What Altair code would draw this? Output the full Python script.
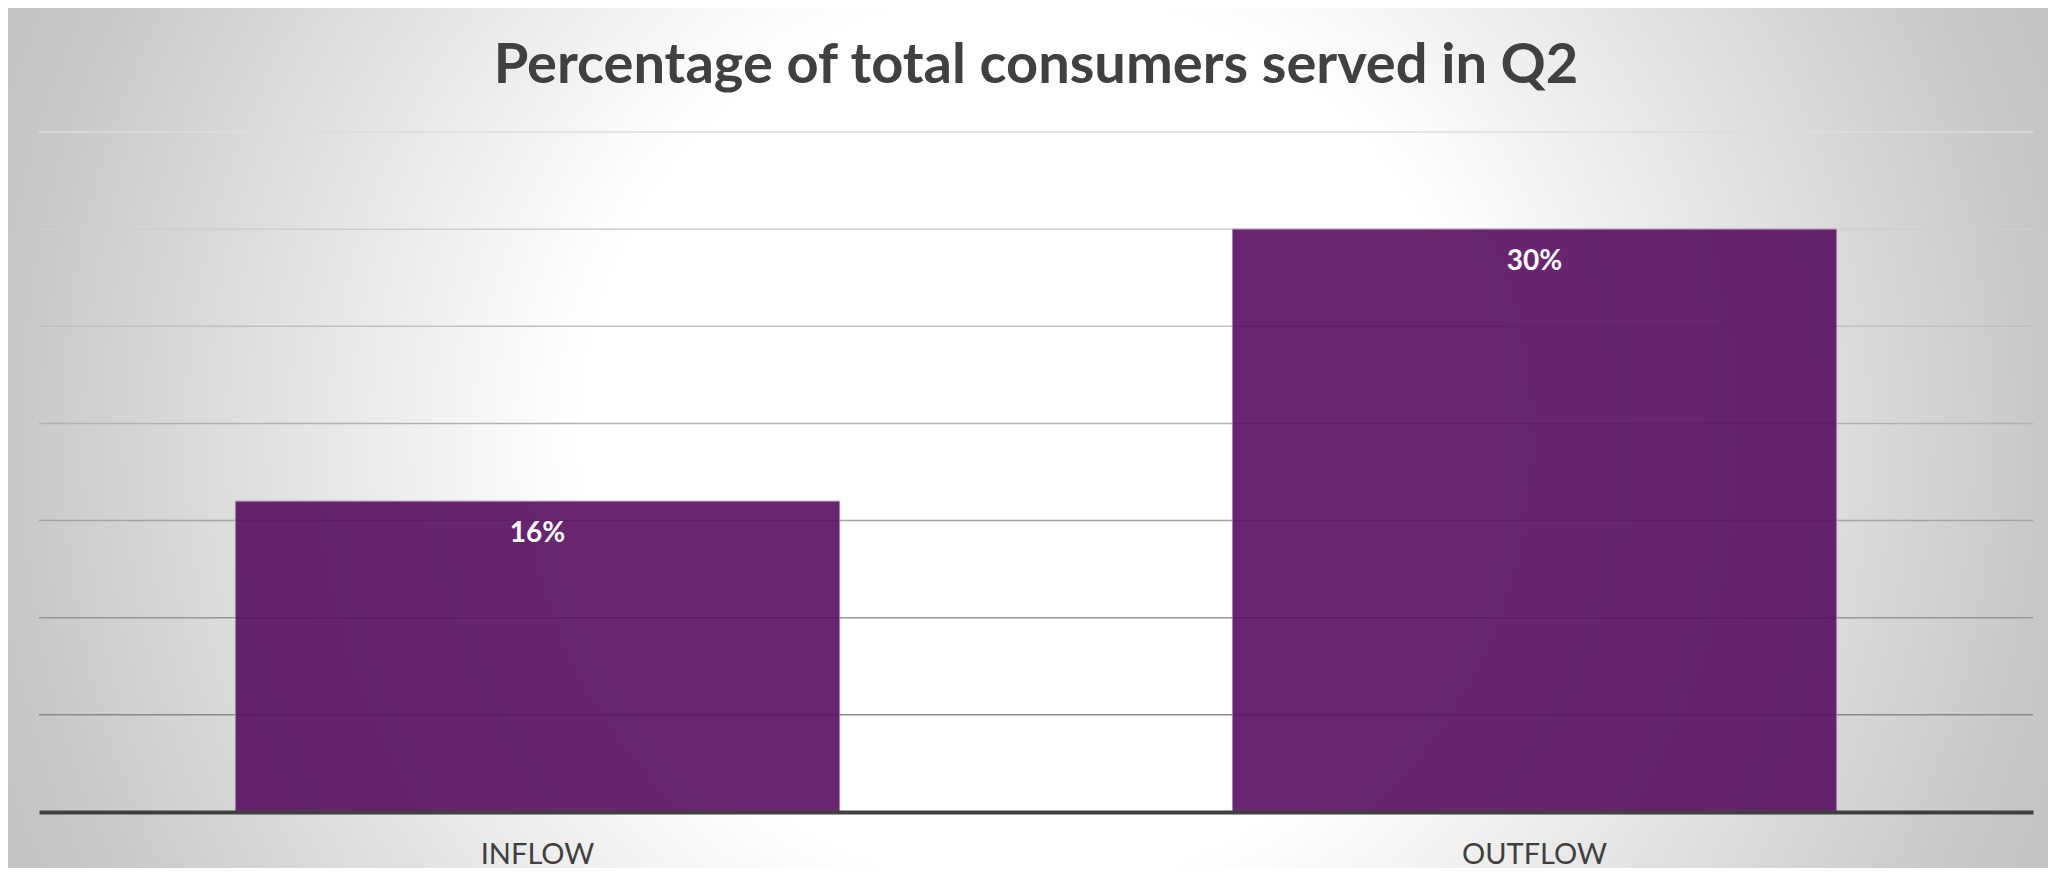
import altair as alt
import pandas as pd

# ---- data ----
CATEGORIES = ["INFLOW", "OUTFLOW"]
VALUES = [0.16, 0.30]
GRID_TICKS = [0.05, 0.10, 0.15, 0.20, 0.25, 0.30, 0.35]
TITLE = "Percentage of total consumers served in Q2"

bars_df = pd.DataFrame({"category": CATEGORIES, "value": VALUES})
grid_df = pd.DataFrame({"tick": GRID_TICKS})

# ---- layout ----
PLOT_W, PLOT_H = 1994, 680
PAD = {"left": 31, "top": 124, "right": 15, "bottom": 56}
TOTAL_W = PAD["left"] + PLOT_W + PAD["right"]
TOTAL_H = PAD["top"] + PLOT_H + PAD["bottom"]

TEXT_DARK = "#404040"
BAR_COLOR = "#580f61"

yscale = alt.Scale(domain=[0, 0.35], nice=False, zero=True)
xscale = alt.Scale(paddingInner=0.394, paddingOuter=0.197)

bg_gradient = alt.RadialGradient(
    gradient="radial",
    stops=[
        alt.GradientStop(offset=0, color="#ffffff"),
        alt.GradientStop(offset=0.40, color="#ffffff"),
        alt.GradientStop(offset=0.90, color="#c8c8c8"),
        alt.GradientStop(offset=1, color="#c2c2c2"),
    ],
    x1=0.5, y1=0.5, r1=0, x2=0.5, y2=0.5, r2=0.554,
)

background = alt.Chart(alt.Data(values=[{"bg": 1}])).mark_rect(
    fill=bg_gradient
).encode(
    x=alt.value(-PAD["left"]),
    x2=alt.value(TOTAL_W - PAD["left"]),
    y=alt.value(-PAD["top"]),
    y2=alt.value(TOTAL_H - PAD["top"]),
)

grid = alt.Chart(grid_df).mark_rule(strokeWidth=1.5).encode(
    y=alt.Y("tick:Q", scale=yscale, axis=None),
    color=alt.Color(
        "tick:Q",
        scale=alt.Scale(domain=[0.05, 0.35], range=["#8a8a8a", "#dcdcdc"]),
        legend=None,
    ),
)

bars = alt.Chart(bars_df).mark_bar(
    color=BAR_COLOR, opacity=0.9, stroke="#a07ca6", strokeWidth=1
).encode(
    x=alt.X(
        "category:N",
        sort=CATEGORIES,
        scale=xscale,
        axis=alt.Axis(
            title=None,
            labelAngle=0,
            ticks=False,
            tickSize=0,
            grid=False,
            domainColor=TEXT_DARK,
            domainWidth=4,
            labelFont="Lato",
            labelFontSize=29,
            labelColor=TEXT_DARK,
            labelPadding=28,
            zindex=1,
        ),
    ),
    y=alt.Y("value:Q", scale=yscale, axis=None),
)

labels = alt.Chart(bars_df).mark_text(
    font="Lato", fontSize=28, fontWeight="bold", color="white",
    baseline="middle", dy=33,
).encode(
    x=alt.X("category:N", sort=CATEGORIES, scale=xscale),
    y=alt.Y("value:Q", scale=yscale),
    text=alt.Text("value:Q", format=".0%"),
)

chart = alt.layer(background, grid, bars, labels).properties(
    width=PLOT_W,
    height=PLOT_H,
    padding=PAD,
    autosize=alt.AutoSizeParams(type="none"),
    background="#c8c8c8",
    title=alt.Title(
        TITLE,
        font="Lato",
        fontSize=56,
        fontWeight="bold",
        color=TEXT_DARK,
        anchor="middle",
        frame="group",
        baseline="alphabetic",
        offset=-131,
    ),
).configure_view(stroke=None)

chart.save("out.html", embed_options={"renderer": "svg", "actions": False})
